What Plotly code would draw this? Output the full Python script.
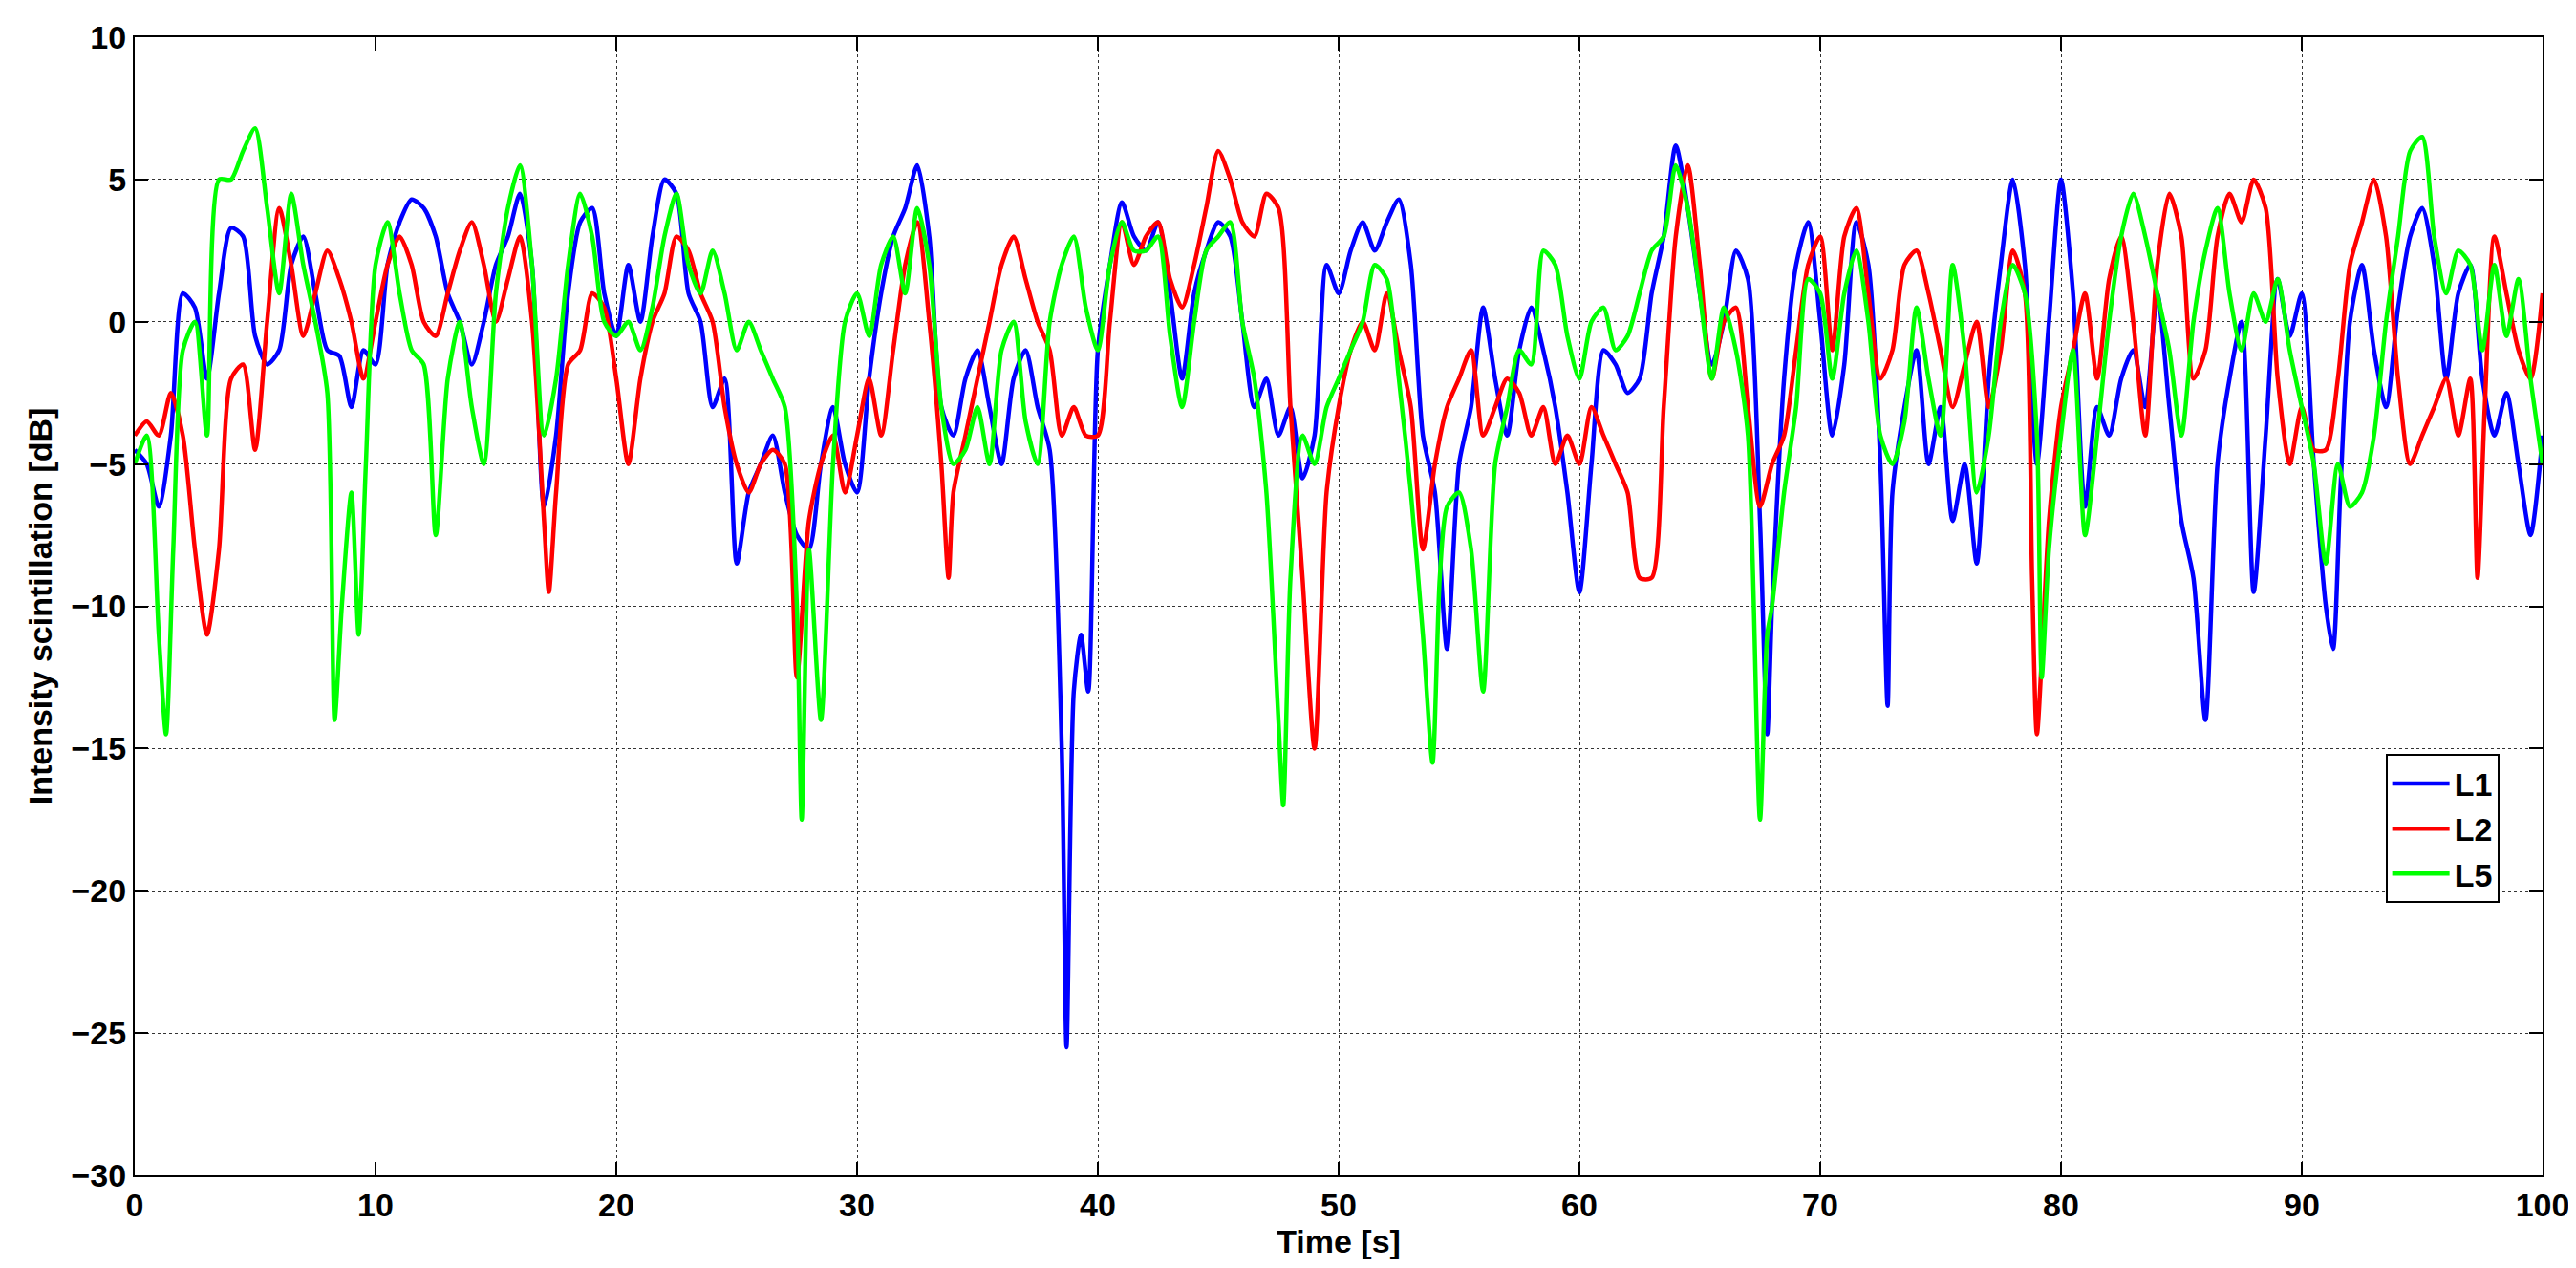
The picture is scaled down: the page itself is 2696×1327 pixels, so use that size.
import plotly.graph_objects as go

# L1 (blue)
t1 = [0, 0.5, 1, 1.5, 2, 2.5, 3, 3.5, 4, 4.5, 5, 5.5, 6, 6.5, 7, 7.5, 8, 8.5, 9, 9.5,
      10, 10.5, 11, 11.5, 12, 12.5, 13, 13.5, 14, 14.5, 15, 15.5, 16, 16.5, 17, 17.5, 18, 18.5, 19, 19.5,
      20, 20.5, 21, 21.5, 22, 22.5, 23, 23.5, 24, 24.5, 25, 25.5, 26, 26.5, 27, 27.5, 28, 28.5, 29, 29.5,
      30, 30.5, 31, 31.5, 32, 32.5, 33, 33.5, 34, 34.5, 35, 35.5, 36, 36.5, 37, 37.5, 38, 38.5, 38.7, 39, 39.3, 39.6,
      40, 40.5, 41, 41.5, 42, 42.5, 43, 43.5, 44, 44.5, 45, 45.5, 46, 46.5, 47, 47.5, 48, 48.5, 49, 49.5,
      50, 50.5, 51, 51.5, 52, 52.5, 53, 53.5, 54, 54.5, 55, 55.5, 56, 56.5, 57, 57.5, 58, 58.5, 59, 59.5,
      60, 60.5, 61, 61.5, 62, 62.5, 63, 63.5, 64, 64.5, 65, 65.5, 66, 66.5, 67, 67.5, 67.8, 68, 68.5, 69, 69.5,
      70, 70.5, 71, 71.5, 72, 72.5, 72.8, 73, 73.5, 74, 74.5, 75, 75.5, 76, 76.5, 77, 77.5, 78, 78.5, 79, 79.5,
      80, 80.5, 81, 81.5, 82, 82.5, 83, 83.5, 84, 84.5, 85, 85.5, 86, 86.5, 87, 87.5, 88, 88.5, 89, 89.5,
      90, 90.5, 91, 91.3, 91.6, 92, 92.5, 93, 93.5, 94, 94.5, 95, 95.5, 96, 96.5, 97, 97.5, 98, 98.5, 99, 99.5, 100]
l1 = [-4.5, -5, -6.5, -4, 1, 0.5, -2, 1, 3.3, 3, -0.5, -1.5, -1, 2, 3, 1, -1, -1.2, -3, -1,
      -1.5, 2, 3.5, 4.3, 4, 3, 1, 0, -1.5, 0, 2, 3, 4.5, 2, -6.5, -4, 1, 3.5, 4, 1,
      -0.5, 2, 0, 3, 5, 4.5, 1, 0, -3, -2, -8.5, -6, -5, -4, -6, -7.5, -8, -5, -3, -5,
      -6, -2, 1, 3, 4, 5.5, 3, -3, -4, -2, -1, -3, -5, -2, -1, -3, -4.5, -15, -25.5, -13, -11, -13,
      -1, 2, 4.2, 3, 2.5, 3.5, 1, -2, 1, 2.5, 3.5, 3, 0, -3, -2, -4, -3, -5.5, -4, 2,
      1, 2.5, 3.5, 2.5, 3.5, 4.3, 2, -4, -6, -11.5, -5, -3, 0.5, -2, -4, -1, 0.5, -1, -3, -6,
      -9.5, -5, -1, -1.5, -2.5, -2, 1, 3, 6.2, 4, 1, -1.5, 0, 2.5, 1.5, -7, -14.5, -10, -2, 2, 3.5,
      0, -4, -1.5, 3.5, 2, -5, -13.5, -6, -3, -1, -5, -3, -7, -5, -8.5, -2, 2, 5, 2, -5, 0,
      5, 1, -6.5, -3, -4, -2, -1, -3, 1, -3, -7, -9, -14, -5, -2, 0, -9.5, -4, 1.5, -0.5,
      1, -5, -10, -11.5, -6, 0, 2, -1, -3, 0.5, 3, 4, 2, -2, 1, 2, -2, -4, -2.5, -5, -7.5, -4]

# L2 (red)
t2 = [0, 0.5, 1, 1.5, 2, 2.5, 3, 3.5, 4, 4.5, 5, 5.5, 6, 6.5, 7, 7.5, 8, 8.5, 9, 9.5,
      10, 10.5, 11, 11.5, 12, 12.5, 13, 13.5, 14, 14.5, 15, 15.5, 16, 16.5, 17, 17.2, 17.5, 18, 18.5, 19, 19.5,
      20, 20.5, 21, 21.5, 22, 22.5, 23, 23.5, 24, 24.5, 25, 25.5, 26, 26.5, 27, 27.5, 28, 28.5, 29, 29.5,
      30, 30.5, 31, 31.5, 32, 32.5, 33, 33.5, 33.8, 34, 34.5, 35, 35.5, 36, 36.5, 37, 37.5, 38, 38.5, 39, 39.5,
      40, 40.5, 41, 41.5, 42, 42.5, 43, 43.5, 44, 44.5, 45, 45.5, 46, 46.5, 47, 47.5, 48, 48.5, 49, 49.5,
      50, 50.5, 51, 51.5, 52, 52.5, 53, 53.5, 54, 54.5, 55, 55.5, 56, 56.5, 57, 57.5, 58, 58.5, 59, 59.5,
      60, 60.5, 61, 61.5, 62, 62.5, 63, 63.5, 64, 64.5, 65, 65.5, 66, 66.5, 67, 67.5, 68, 68.5, 69, 69.5,
      70, 70.5, 71, 71.5, 72, 72.5, 73, 73.5, 74, 74.5, 75, 75.5, 76, 76.5, 77, 77.5, 78, 78.5, 78.8, 79, 79.5,
      80, 80.5, 81, 81.5, 82, 82.5, 83, 83.5, 84, 84.5, 85, 85.5, 86, 86.5, 87, 87.5, 88, 88.5, 89, 89.5,
      90, 90.5, 91, 91.5, 92, 92.5, 93, 93.5, 94, 94.5, 95, 95.5, 96, 96.5, 97, 97.3, 97.6, 98, 98.5, 99, 99.5, 100]
l2 = [-4, -3.5, -4, -2.5, -4, -8, -11, -8, -2, -1.5, -4.5, 0, 4, 2, -0.5, 1, 2.5, 1.5, 0, -2,
      0, 2, 3, 2, 0, -0.5, 1, 2.5, 3.5, 2, 0, 1.5, 3, 0, -7, -9.5, -6, -1.5, -1, 1, 0.5,
      -2, -5, -2, 0, 1, 3, 2.5, 1, 0, -3, -5, -6, -5, -4.5, -5, -12.5, -7, -5, -4, -6,
      -4, -2, -4, -1, 2, 3.5, 0, -5, -9, -6, -4, -2, 0, 2, 3, 1.5, 0, -1, -4, -3, -4,
      -4, 0, 3.5, 2, 3, 3.5, 1.5, 0.5, 2, 4, 6, 5, 3.5, 3, 4.5, 4, -3, -9, -15, -6,
      -3, -1, 0, -1, 1, -1, -3, -8, -5, -3, -2, -1, -4, -3, -2, -2.5, -4, -3, -5, -4,
      -5, -3, -4, -5, -6, -9, -9, -3, 3, 5.5, 2, -2, 0, 0.5, -3, -6.5, -5, -4, -1, 2,
      3, -1, 3, 4, 1, -2, -1, 2, 2.5, 1, -1, -3, -1.5, 0, -3, -1, 2.5, 1, -9, -14.5, -7,
      -3, -1, 1, -2, 1.5, 3, 0, -4, 2, 4.5, 3, -2, -1, 3, 4.5, 3.5, 5, 4, -2, -5,
      -3, -4.5, -4.5, -2, 2, 3.5, 5, 3, -2, -5, -4, -3, -2, -4, -2, -9, -3, 3, 1, -1, -2, 1]

# L5 (green)
t5 = [0, 0.5, 1, 1.3, 1.6, 2, 2.5, 3, 3.5, 4, 4.5, 5, 5.5, 6, 6.5, 7, 7.5, 8, 8.3, 8.6, 9, 9.3, 9.6,
      10, 10.5, 11, 11.5, 12, 12.5, 13, 13.5, 14, 14.5, 15, 15.5, 16, 16.5, 17, 17.5, 18, 18.5, 19, 19.5,
      20, 20.5, 21, 21.5, 22, 22.5, 23, 23.5, 24, 24.5, 25, 25.5, 26, 26.5, 27, 27.5, 27.7, 28, 28.5, 29, 29.5,
      30, 30.5, 31, 31.5, 32, 32.5, 33, 33.5, 34, 34.5, 35, 35.5, 36, 36.5, 37, 37.5, 38, 38.5, 39, 39.5,
      40, 40.5, 41, 41.5, 42, 42.5, 43, 43.5, 44, 44.5, 45, 45.5, 46, 46.5, 47, 47.5, 47.7, 48, 48.5, 49, 49.5,
      50, 50.5, 51, 51.5, 52, 52.5, 53, 53.5, 53.9, 54.2, 54.5, 55, 55.5, 56, 56.5, 57, 57.5, 58, 58.5, 59, 59.5,
      60, 60.5, 61, 61.5, 62, 62.5, 63, 63.5, 64, 64.5, 65, 65.5, 66, 66.5, 67, 67.5, 67.8, 68, 68.5, 69, 69.5,
      70, 70.5, 71, 71.5, 72, 72.5, 73, 73.5, 74, 74.5, 75, 75.5, 76, 76.5, 77, 77.5, 78, 78.5, 79, 79.2, 79.5,
      80, 80.5, 81, 81.5, 82, 82.5, 83, 83.5, 84, 84.5, 85, 85.5, 86, 86.5, 87, 87.5, 88, 88.5, 89, 89.5,
      90, 90.5, 91, 91.5, 92, 92.5, 93, 93.5, 94, 94.5, 95, 95.5, 96, 96.5, 97, 97.5, 98, 98.5, 99, 99.5, 100]
l5 = [-5, -4, -11, -14.5, -8, -1, 0, -4, 5, 5, 6, 6.8, 4, 1, 4.5, 2, 0, -2.5, -14, -10, -6, -11, -5,
      2, 3.5, 1, -1, -1.5, -7.5, -2, 0, -3, -5, 1, 4, 5.5, 2, -4, -2, 2, 4.5, 3, 0,
      -0.5, 0, -1, 0.5, 3, 4.5, 2, 1, 2.5, 1, -1, 0, -1, -2, -3, -10, -17.5, -8, -14, -5, 0,
      1, -0.5, 2, 3, 1, 4, 2, -3, -5, -4.5, -3, -5, -1, 0, -3.5, -5, 0, 2, 3, 0.5,
      -1, 2, 3.5, 2.5, 2.5, 3, -0.5, -3, 0, 2.5, 3, 3.5, 0, -2, -6, -14, -17, -9, -4, -5, -3,
      -2, -1, 0, 2, 1.5, -2, -6, -11, -15.5, -9, -6.5, -6, -8, -13, -5, -3, -1, -1.5, 2.5, 2, -0.5,
      -2, 0, 0.5, -1, -0.5, 1, 2.5, 3, 5.5, 4, 1, -2, 0.5, -1, -4, -17.5, -11, -10, -6, -3, 1.5,
      1, -2, 1, 2.5, 0, -4, -5, -3.5, 0.5, -2, -4, 2, -1, -6, -4, 0, 2, 1, -4, -12.5, -8,
      -4, -1, -7.5, -4, 0, 3, 4.5, 3, 1, -1, -4, 0, 2.5, 4, 1, -1, 1, 0, 1.5, -1,
      -3, -5, -8.5, -5, -6.5, -6, -4, 0, 3, 6, 6.5, 3, 1, 2.5, 2, -1, 2, -0.5, 1.5, -2, -5]

fnt = dict(family="Liberation Sans, Arial", size=34, color="black")

fig = go.Figure()
for t, v, name, col in [(t1, l1, "L1", "#0000ff"), (t2, l2, "L2", "#ff0000"), (t5, l5, "L5", "#00ff00")]:
    fig.add_trace(go.Scatter(x=t, y=v, mode="lines", name=f"<b>{name}</b>",
                             line=dict(color=col, width=4.5, shape="spline", smoothing=0.7)))

axis = dict(showline=True, linecolor="black", linewidth=2, mirror="ticks", ticks="inside",
            ticklen=14, tickwidth=2, tickcolor="black", showgrid=True, gridcolor="#333333",
            griddash="dot", gridwidth=1.2, zeroline=False, tickfont=fnt)
fig.update_xaxes(range=[0, 100], dtick=10, title=dict(text="<b>Time [s]</b>", font=fnt, standoff=2),
                 tickprefix="<b>", ticksuffix="</b>", **axis)
fig.update_yaxes(range=[-30, 10], dtick=5, title=dict(text="<b>Intensity scintillation [dB]</b>", font=fnt, standoff=10),
                 tickprefix="<b>", ticksuffix="</b>", **axis)
fig.update_layout(
    width=2696, height=1327, plot_bgcolor="white", paper_bgcolor="white",
    margin=dict(l=133, r=43, t=28, b=105),
    font=fnt,
    legend=dict(x=0.982, y=0.370, xanchor="right", yanchor="top", bgcolor="white",
                bordercolor="black", borderwidth=2, font=fnt, itemwidth=60, tracegroupgap=0),
)
fig.write_html("out.html")
